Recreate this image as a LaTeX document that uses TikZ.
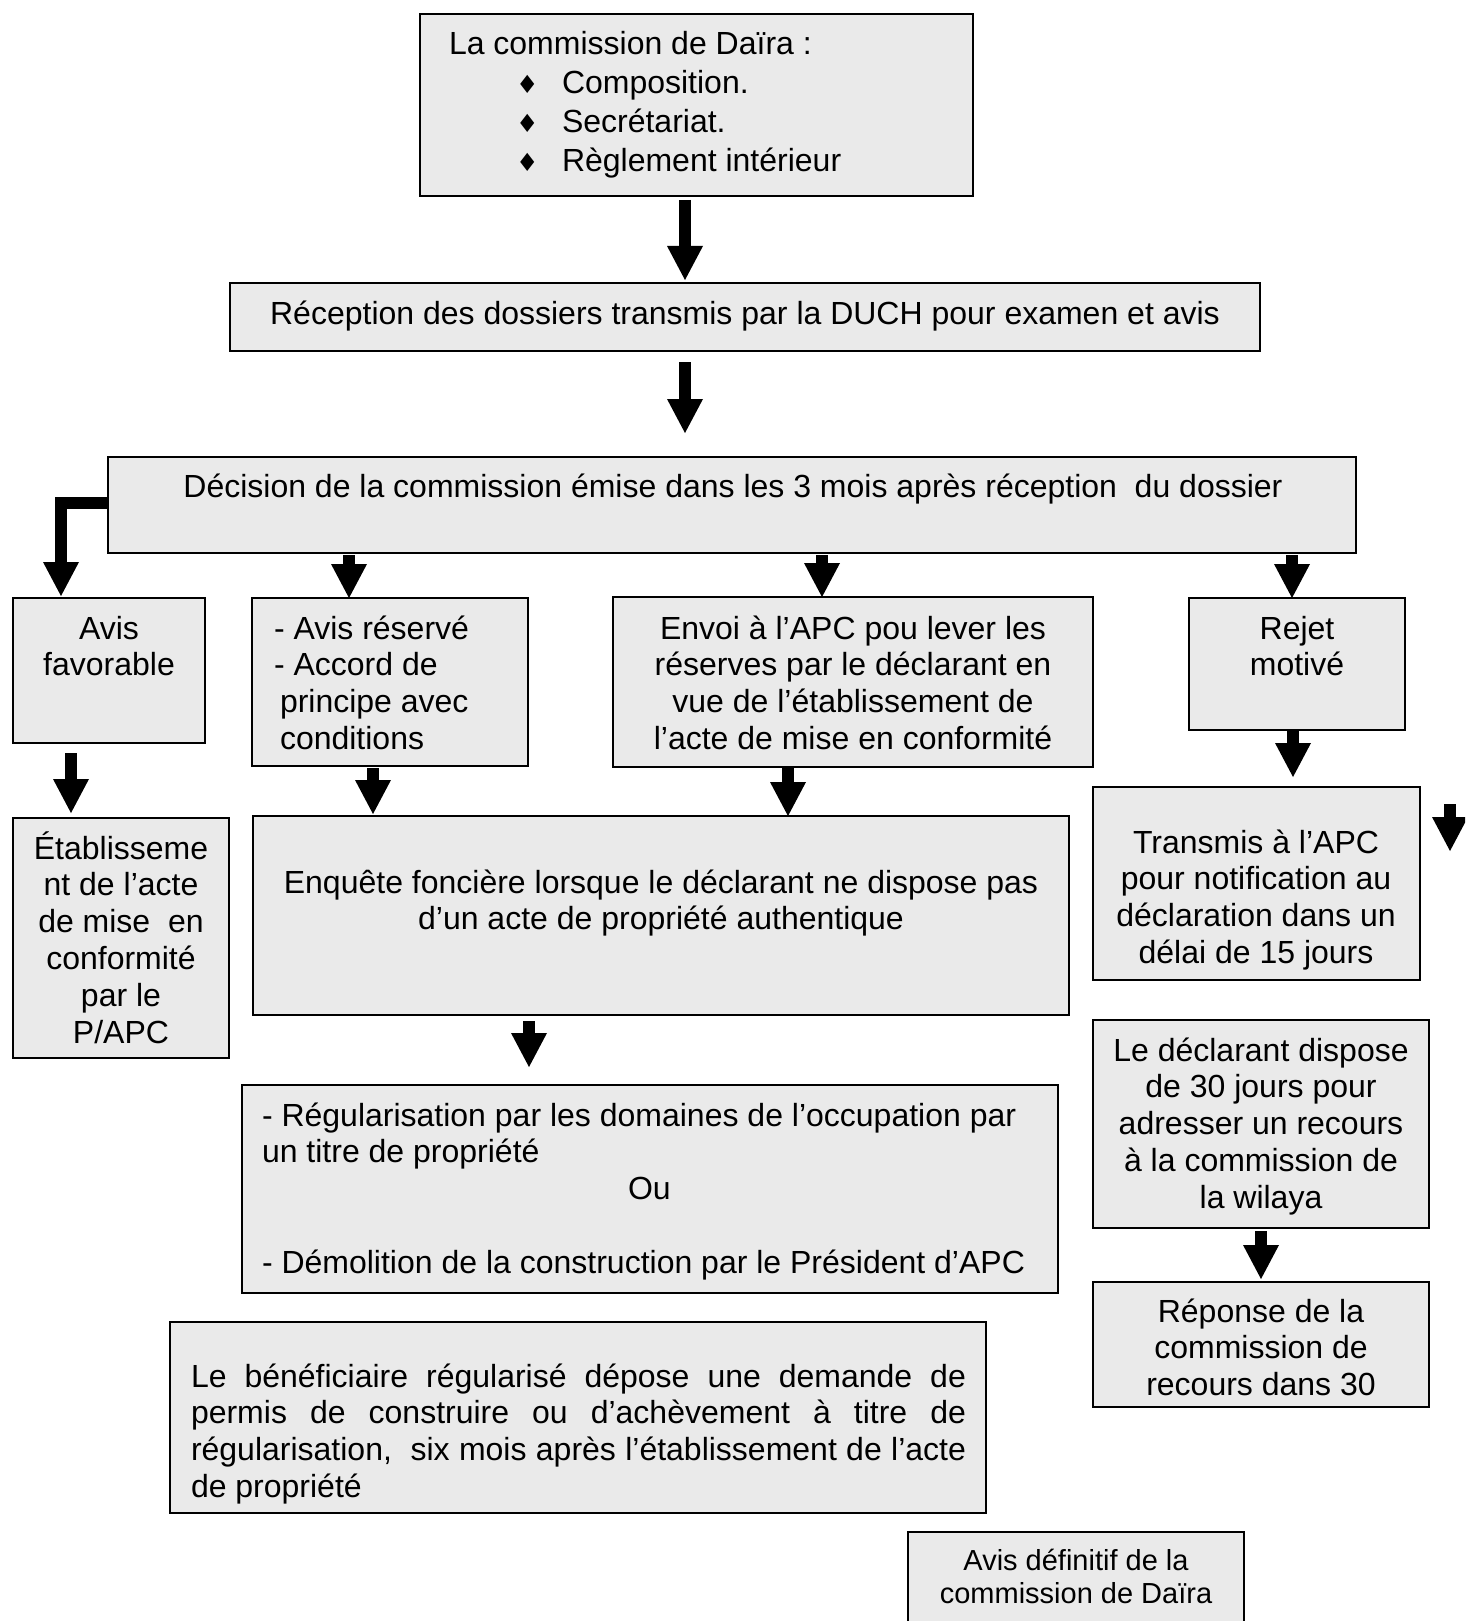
\documentclass[tikz,border=0pt]{standalone}
\usepackage{fontspec}
\setmainfont{Liberation Sans}[Ligatures={TeX,NoCommon}]
\newfontfamily\bulletfont{DejaVu Sans}
\usetikzlibrary{arrows.meta}
\definecolor{boxfill}{RGB}{234,234,234}
\newcommand\diabullet{{\bulletfont\fontsize{25}{25}\selectfont ♦}}
\begin{document}
\begin{tikzpicture}[x=1pt,y=-1pt,
  box/.style={draw=black, line width=2pt, fill=boxfill, rectangle,
              inner sep=0pt, outer sep=0pt, anchor=north west},
  % natural word spacing of the font, so that justified lines can stretch
  txt/.style={inner sep=0pt, outer sep=0pt, font=\fontsize{32}{36.8}\selectfont,
              execute at begin node={\spaceskip=0pt\xspaceskip=0pt\relax}},
  ctr/.style={txt, align=flush center, anchor=base},
  lft/.style={txt, align=flush left, anchor=base west},
  blk/.style={line width=12pt, -{Triangle[width=36pt,length=34pt,line width=0pt]}}
]
\useasboundingbox (0,0) rectangle (1465,1621);
\clip (0,0) rectangle (1465,1621);

% ---------- boxes ----------
\node[box, minimum width=553pt,  minimum height=182pt] (top)  at (420,14)   {};
\node[box, minimum width=1030pt, minimum height=68pt]  (rec)  at (230,283)  {};
\node[box, minimum width=1248pt, minimum height=96pt]  (dec)  at (108,457)  {};
\node[box, minimum width=192pt,  minimum height=145pt] (fav)  at (13,598)   {};
\node[box, minimum width=276pt,  minimum height=168pt] (res)  at (252,598)  {};
\node[box, minimum width=480pt,  minimum height=170pt] (env)  at (613,597)  {};
\node[box, minimum width=216pt,  minimum height=132pt] (rej)  at (1189,598) {};
\node[box, minimum width=216pt,  minimum height=240pt] (etab) at (13,818)   {};
\node[box, minimum width=816pt,  minimum height=199pt] (enq)  at (253,816)  {};
\node[box, minimum width=327pt,  minimum height=193pt] (tra)  at (1093,787) {};
\node[box, minimum width=816pt,  minimum height=208pt] (reg)  at (242,1085) {};
\node[box, minimum width=336pt,  minimum height=208pt] (decl) at (1093,1020) {};
\node[box, minimum width=336pt,  minimum height=125pt] (rep)  at (1093,1282) {};
\node[box, minimum width=816pt,  minimum height=191pt] (ben)  at (170,1322) {};
\node[box, minimum width=336pt,  minimum height=120pt] (def)  at (908,1532) {};

% ---------- texts ----------
\node[lft, text width=500pt, font=\fontsize{32}{38.7}\selectfont] (t-top) at (449,55)
  {La commission de Daïra :\\
   \makebox[113pt][l]{\hspace*{67pt}\diabullet}Composition.\\
   \makebox[113pt][l]{\hspace*{67pt}\diabullet}Secrétariat.\\
   \makebox[113pt][l]{\hspace*{67pt}\diabullet}Règlement intérieur};
\node[ctr, text width=1020pt] (t-rec) at (745,324)
  {Réception des dossiers transmis par la DUCH pour examen et avis};
\node[ctr, text width=1230pt] (t-dec) at (733,497)
  {Décision de la commission émise dans les 3 mois après réception\ \ du dossier};
\node[ctr, text width=190pt] (t-fav) at (109,639) {Avis\\favorable};
\node[lft, text width=260pt] (t-res) at (274,639)
  {- Avis réservé\\- Accord de\\\hspace*{6pt}principe avec\\\hspace*{6pt}conditions};
\node[ctr, text width=470pt] (t-env) at (853,639)
  {Envoi à l’APC pou lever les\\réserves par le déclarant en\\vue de l’établissement de\\l’acte de mise en conformité};
\node[ctr, text width=210pt] (t-rej) at (1297,639) {Rejet\\motivé};
\node[ctr, text width=214pt] (t-etab) at (121,859)
  {Établisseme\\nt de l’acte\\de mise\ \ en\\conformité\\par le\\P/APC};
\node[ctr, text width=810pt] (t-enq) at (661,893)
  {Enquête foncière lorsque le déclarant ne dispose pas\\d’un acte de propriété authentique};
\node[ctr, text width=320pt] (t-tra) at (1256,853)
  {Transmis à l’APC\\pour notification au\\déclaration dans un\\délai de 15 jours};
\node[lft, text width=790pt] (t-reg) at (262,1126)
  {- Régularisation par les domaines de l’occupation par\\un titre de propriété\\\hspace*{366pt}Ou\\[36.8pt]- Démolition de la construction par le Président d’APC};
\node[ctr, text width=330pt] (t-decl) at (1261,1061)
  {Le déclarant dispose\\de 30 jours pour\\adresser un recours\\à la commission de\\la wilaya};
\node[ctr, text width=330pt] (t-rep) at (1261,1322)
  {Réponse de la\\commission de\\recours dans 30};
\node[lft, text width=775pt] (t-ben) at (191,1387)
  {\makebox[775pt][s]{Le bénéficiaire régularisé dépose une demande de}\\
   \makebox[775pt][s]{permis de construire ou d’achèvement à titre de}\\
   \makebox[775pt][s]{régularisation,\ \ six mois après l’établissement de l’acte}\\
   de propriété};
\node[ctr, text width=330pt, font=\fontsize{29}{33.4}\selectfont] (t-def) at (1076,1570)
  {Avis définitif de la\\commission de Daïra};

% ---------- arrow columns ----------
\coordinate (xa)   at (685,0);
\coordinate (xel)  at (61,0);
\coordinate (yel)  at (0,502.5);
\coordinate (xr1)  at (349,0);
\coordinate (xr2)  at (822,0);
\coordinate (xr3)  at (1292,0);
\coordinate (xfav) at (71,0);
\coordinate (xres) at (373,0);
\coordinate (xenv) at (788,0);
\coordinate (xrej) at (1293,0);
\coordinate (xenq) at (529,0);
\coordinate (xdcl) at (1261,0);
\coordinate (lone-a) at (1450,804);
\coordinate (lone-b) at (1450,851);

% ---------- arrows ----------
\draw[blk, shorten <=4pt, shorten >=3pt]  (top.south -| xa) -- (rec.north -| xa);
\draw[blk, shorten <=11pt, shorten >=24pt] (rec.south -| xa) -- (dec.north -| xa);
\draw[blk, shorten >=2pt] (dec.west |- yel) -| (fav.north -| xel);
\draw[blk, shorten <=2pt] (dec.south -| xr1) -- (res.north -| xr1);
\draw[blk, shorten <=2pt] (dec.south -| xr2) -- (env.north -| xr2);
\draw[blk, shorten <=2pt] (dec.south -| xr3) -- (rej.north -| xr3);
\draw[blk, shorten <=10pt, shorten >=5pt] (fav.south -| xfav) -- (etab.north -| xfav);
\draw[blk, shorten <=2pt, shorten >=2pt]  (res.south -| xres) -- (enq.north -| xres);
\draw[blk, shorten <=1pt] (env.south -| xenv) -- (enq.north -| xenv);
\draw[blk, shorten >=10pt] (rej.south -| xrej) -- (tra.north -| xrej);
\draw[blk, shorten <=6pt, shorten >=18pt] (enq.south -| xenq) -- (reg.north -| xenq);
\draw[blk, shorten <=3pt, shorten >=3pt]  (decl.south -| xdcl) -- (rep.north -| xdcl);
\draw[blk] (lone-a) -- (lone-b);
\end{tikzpicture}
\end{document}
